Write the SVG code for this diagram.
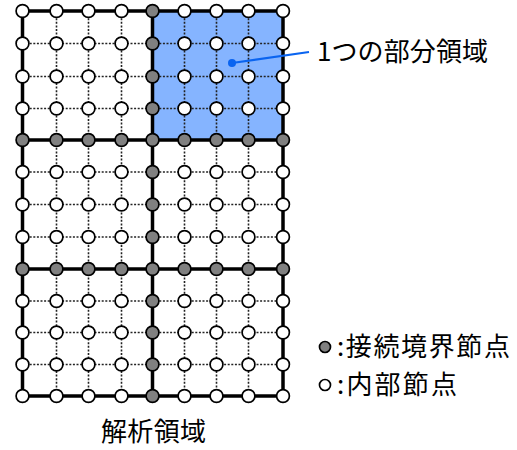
<svg xmlns="http://www.w3.org/2000/svg" width="517" height="450" viewBox="0 0 517 450">
<style>
.thick{stroke:#000;stroke-width:3.5;fill:none;stroke-linecap:square}
.dot{stroke:#222;stroke-width:1.6;stroke-dasharray:2 1.6;fill:none}
.w{fill:#fff;stroke:#000;stroke-width:1.7}
.g{fill:#808080;stroke:#000;stroke-width:1.7}
.t{font-family:"Noto Sans CJK JP","Noto Sans",sans-serif;font-size:26px;fill:#000}
</style>
<rect id="subdomain" x="152.5" y="11" width="130.5" height="129" fill="#85B4FF"/>
<g id="connectors">
<g id="grid-dotted">
<path class="dot" d="M22.5,43.5H283M22.5,76.5H283M22.5,108.5H283M22.5,172H283M22.5,204.5H283M22.5,237H283M22.5,301H283M22.5,332.5H283M22.5,364.5H283"/>
<path class="dot" d="M56.5,11V396M88.5,11V396M121.5,11V396M184.5,11V396M216.5,11V396M248.5,11V396"/>
</g>
<g id="grid-thick">
<rect class="thick" x="22.5" y="11" width="260.5" height="385"/>
<path class="thick" d="M152.5,11V396M22.5,140H283M22.5,269H283"/>
</g>
<g id="leader">
<line x1="232" y1="63" x2="309" y2="52" stroke="#0A64F0" stroke-width="2.2"/>
<circle cx="232" cy="63" r="4" fill="#0A64F0"/>
</g>
</g>
<g id="nodes">
<g id="n0_0"><circle class="w" cx="22.5" cy="11" r="6.4"/></g>
<g id="n1_0"><circle class="w" cx="56.5" cy="11" r="6.4"/></g>
<g id="n2_0"><circle class="w" cx="88.5" cy="11" r="6.4"/></g>
<g id="n3_0"><circle class="w" cx="121.5" cy="11" r="6.4"/></g>
<g id="n4_0"><circle class="g" cx="152.5" cy="11" r="6.4"/></g>
<g id="n5_0"><circle class="w" cx="184.5" cy="11" r="6.4"/></g>
<g id="n6_0"><circle class="w" cx="216.5" cy="11" r="6.4"/></g>
<g id="n7_0"><circle class="w" cx="248.5" cy="11" r="6.4"/></g>
<g id="n8_0"><circle class="w" cx="283" cy="11" r="6.4"/></g>
<g id="n0_1"><circle class="w" cx="22.5" cy="43.5" r="6.4"/></g>
<g id="n1_1"><circle class="w" cx="56.5" cy="43.5" r="6.4"/></g>
<g id="n2_1"><circle class="w" cx="88.5" cy="43.5" r="6.4"/></g>
<g id="n3_1"><circle class="w" cx="121.5" cy="43.5" r="6.4"/></g>
<g id="n4_1"><circle class="g" cx="152.5" cy="43.5" r="6.4"/></g>
<g id="n5_1"><circle class="w" cx="184.5" cy="43.5" r="6.4"/></g>
<g id="n6_1"><circle class="w" cx="216.5" cy="43.5" r="6.4"/></g>
<g id="n7_1"><circle class="w" cx="248.5" cy="43.5" r="6.4"/></g>
<g id="n8_1"><circle class="w" cx="283" cy="43.5" r="6.4"/></g>
<g id="n0_2"><circle class="w" cx="22.5" cy="76.5" r="6.4"/></g>
<g id="n1_2"><circle class="w" cx="56.5" cy="76.5" r="6.4"/></g>
<g id="n2_2"><circle class="w" cx="88.5" cy="76.5" r="6.4"/></g>
<g id="n3_2"><circle class="w" cx="121.5" cy="76.5" r="6.4"/></g>
<g id="n4_2"><circle class="g" cx="152.5" cy="76.5" r="6.4"/></g>
<g id="n5_2"><circle class="w" cx="184.5" cy="76.5" r="6.4"/></g>
<g id="n6_2"><circle class="w" cx="216.5" cy="76.5" r="6.4"/></g>
<g id="n7_2"><circle class="w" cx="248.5" cy="76.5" r="6.4"/></g>
<g id="n8_2"><circle class="w" cx="283" cy="76.5" r="6.4"/></g>
<g id="n0_3"><circle class="w" cx="22.5" cy="108.5" r="6.4"/></g>
<g id="n1_3"><circle class="w" cx="56.5" cy="108.5" r="6.4"/></g>
<g id="n2_3"><circle class="w" cx="88.5" cy="108.5" r="6.4"/></g>
<g id="n3_3"><circle class="w" cx="121.5" cy="108.5" r="6.4"/></g>
<g id="n4_3"><circle class="g" cx="152.5" cy="108.5" r="6.4"/></g>
<g id="n5_3"><circle class="w" cx="184.5" cy="108.5" r="6.4"/></g>
<g id="n6_3"><circle class="w" cx="216.5" cy="108.5" r="6.4"/></g>
<g id="n7_3"><circle class="w" cx="248.5" cy="108.5" r="6.4"/></g>
<g id="n8_3"><circle class="w" cx="283" cy="108.5" r="6.4"/></g>
<g id="n0_4"><circle class="g" cx="22.5" cy="140" r="6.4"/></g>
<g id="n1_4"><circle class="g" cx="56.5" cy="140" r="6.4"/></g>
<g id="n2_4"><circle class="g" cx="88.5" cy="140" r="6.4"/></g>
<g id="n3_4"><circle class="g" cx="121.5" cy="140" r="6.4"/></g>
<g id="n4_4"><circle class="g" cx="152.5" cy="140" r="6.4"/></g>
<g id="n5_4"><circle class="g" cx="184.5" cy="140" r="6.4"/></g>
<g id="n6_4"><circle class="g" cx="216.5" cy="140" r="6.4"/></g>
<g id="n7_4"><circle class="g" cx="248.5" cy="140" r="6.4"/></g>
<g id="n8_4"><circle class="g" cx="283" cy="140" r="6.4"/></g>
<g id="n0_5"><circle class="w" cx="22.5" cy="172" r="6.4"/></g>
<g id="n1_5"><circle class="w" cx="56.5" cy="172" r="6.4"/></g>
<g id="n2_5"><circle class="w" cx="88.5" cy="172" r="6.4"/></g>
<g id="n3_5"><circle class="w" cx="121.5" cy="172" r="6.4"/></g>
<g id="n4_5"><circle class="g" cx="152.5" cy="172" r="6.4"/></g>
<g id="n5_5"><circle class="w" cx="184.5" cy="172" r="6.4"/></g>
<g id="n6_5"><circle class="w" cx="216.5" cy="172" r="6.4"/></g>
<g id="n7_5"><circle class="w" cx="248.5" cy="172" r="6.4"/></g>
<g id="n8_5"><circle class="w" cx="283" cy="172" r="6.4"/></g>
<g id="n0_6"><circle class="w" cx="22.5" cy="204.5" r="6.4"/></g>
<g id="n1_6"><circle class="w" cx="56.5" cy="204.5" r="6.4"/></g>
<g id="n2_6"><circle class="w" cx="88.5" cy="204.5" r="6.4"/></g>
<g id="n3_6"><circle class="w" cx="121.5" cy="204.5" r="6.4"/></g>
<g id="n4_6"><circle class="g" cx="152.5" cy="204.5" r="6.4"/></g>
<g id="n5_6"><circle class="w" cx="184.5" cy="204.5" r="6.4"/></g>
<g id="n6_6"><circle class="w" cx="216.5" cy="204.5" r="6.4"/></g>
<g id="n7_6"><circle class="w" cx="248.5" cy="204.5" r="6.4"/></g>
<g id="n8_6"><circle class="w" cx="283" cy="204.5" r="6.4"/></g>
<g id="n0_7"><circle class="w" cx="22.5" cy="237" r="6.4"/></g>
<g id="n1_7"><circle class="w" cx="56.5" cy="237" r="6.4"/></g>
<g id="n2_7"><circle class="w" cx="88.5" cy="237" r="6.4"/></g>
<g id="n3_7"><circle class="w" cx="121.5" cy="237" r="6.4"/></g>
<g id="n4_7"><circle class="g" cx="152.5" cy="237" r="6.4"/></g>
<g id="n5_7"><circle class="w" cx="184.5" cy="237" r="6.4"/></g>
<g id="n6_7"><circle class="w" cx="216.5" cy="237" r="6.4"/></g>
<g id="n7_7"><circle class="w" cx="248.5" cy="237" r="6.4"/></g>
<g id="n8_7"><circle class="w" cx="283" cy="237" r="6.4"/></g>
<g id="n0_8"><circle class="g" cx="22.5" cy="269" r="6.4"/></g>
<g id="n1_8"><circle class="g" cx="56.5" cy="269" r="6.4"/></g>
<g id="n2_8"><circle class="g" cx="88.5" cy="269" r="6.4"/></g>
<g id="n3_8"><circle class="g" cx="121.5" cy="269" r="6.4"/></g>
<g id="n4_8"><circle class="g" cx="152.5" cy="269" r="6.4"/></g>
<g id="n5_8"><circle class="g" cx="184.5" cy="269" r="6.4"/></g>
<g id="n6_8"><circle class="g" cx="216.5" cy="269" r="6.4"/></g>
<g id="n7_8"><circle class="g" cx="248.5" cy="269" r="6.4"/></g>
<g id="n8_8"><circle class="g" cx="283" cy="269" r="6.4"/></g>
<g id="n0_9"><circle class="w" cx="22.5" cy="301" r="6.4"/></g>
<g id="n1_9"><circle class="w" cx="56.5" cy="301" r="6.4"/></g>
<g id="n2_9"><circle class="w" cx="88.5" cy="301" r="6.4"/></g>
<g id="n3_9"><circle class="w" cx="121.5" cy="301" r="6.4"/></g>
<g id="n4_9"><circle class="g" cx="152.5" cy="301" r="6.4"/></g>
<g id="n5_9"><circle class="w" cx="184.5" cy="301" r="6.4"/></g>
<g id="n6_9"><circle class="w" cx="216.5" cy="301" r="6.4"/></g>
<g id="n7_9"><circle class="w" cx="248.5" cy="301" r="6.4"/></g>
<g id="n8_9"><circle class="w" cx="283" cy="301" r="6.4"/></g>
<g id="n0_10"><circle class="w" cx="22.5" cy="332.5" r="6.4"/></g>
<g id="n1_10"><circle class="w" cx="56.5" cy="332.5" r="6.4"/></g>
<g id="n2_10"><circle class="w" cx="88.5" cy="332.5" r="6.4"/></g>
<g id="n3_10"><circle class="w" cx="121.5" cy="332.5" r="6.4"/></g>
<g id="n4_10"><circle class="g" cx="152.5" cy="332.5" r="6.4"/></g>
<g id="n5_10"><circle class="w" cx="184.5" cy="332.5" r="6.4"/></g>
<g id="n6_10"><circle class="w" cx="216.5" cy="332.5" r="6.4"/></g>
<g id="n7_10"><circle class="w" cx="248.5" cy="332.5" r="6.4"/></g>
<g id="n8_10"><circle class="w" cx="283" cy="332.5" r="6.4"/></g>
<g id="n0_11"><circle class="w" cx="22.5" cy="364.5" r="6.4"/></g>
<g id="n1_11"><circle class="w" cx="56.5" cy="364.5" r="6.4"/></g>
<g id="n2_11"><circle class="w" cx="88.5" cy="364.5" r="6.4"/></g>
<g id="n3_11"><circle class="w" cx="121.5" cy="364.5" r="6.4"/></g>
<g id="n4_11"><circle class="g" cx="152.5" cy="364.5" r="6.4"/></g>
<g id="n5_11"><circle class="w" cx="184.5" cy="364.5" r="6.4"/></g>
<g id="n6_11"><circle class="w" cx="216.5" cy="364.5" r="6.4"/></g>
<g id="n7_11"><circle class="w" cx="248.5" cy="364.5" r="6.4"/></g>
<g id="n8_11"><circle class="w" cx="283" cy="364.5" r="6.4"/></g>
<g id="n0_12"><circle class="w" cx="22.5" cy="396" r="6.4"/></g>
<g id="n1_12"><circle class="w" cx="56.5" cy="396" r="6.4"/></g>
<g id="n2_12"><circle class="w" cx="88.5" cy="396" r="6.4"/></g>
<g id="n3_12"><circle class="w" cx="121.5" cy="396" r="6.4"/></g>
<g id="n4_12"><circle class="g" cx="152.5" cy="396" r="6.4"/></g>
<g id="n5_12"><circle class="w" cx="184.5" cy="396" r="6.4"/></g>
<g id="n6_12"><circle class="w" cx="216.5" cy="396" r="6.4"/></g>
<g id="n7_12"><circle class="w" cx="248.5" cy="396" r="6.4"/></g>
<g id="n8_12"><circle class="w" cx="283" cy="396" r="6.4"/></g>
</g>
<g id="label-subdomain"><text class="t" x="317" y="61" textLength="171" lengthAdjust="spacing">1つの部分領域</text></g>
<g id="legend">
<circle class="g" cx="325" cy="347" r="5.5"/>
<text class="t" x="337" y="356" textLength="173" lengthAdjust="spacing">:接続境界節点</text>
<circle class="w" cx="325" cy="385" r="5.5"/>
<text class="t" x="337" y="394" textLength="120" lengthAdjust="spacing">:内部節点</text>
</g>
<g id="label-domain"><text class="t" x="101" y="441" textLength="105" lengthAdjust="spacing">解析領域</text></g>
</svg>
